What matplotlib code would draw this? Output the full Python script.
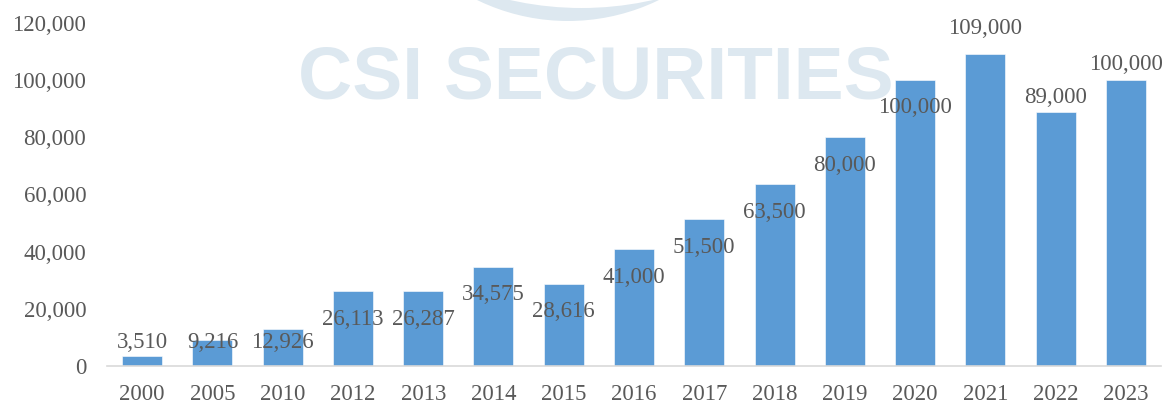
import matplotlib.pyplot as plt
from matplotlib.patches import Circle
from matplotlib.transforms import IdentityTransform

# data
years = ['2000', '2005', '2010', '2012', '2013', '2014', '2015', '2016',
         '2017', '2018', '2019', '2020', '2021', '2022', '2023']
values = [3510, 9216, 12926, 26113, 26287, 34575, 28616, 41000,
          51500, 63500, 80000, 100000, 109000, 89000, 100000]
# where each data label sits (y, data units) - labels are placed unevenly in the original
label_y = [8100, 8100, 8100, 16300, 16300, 25100, 18900, 31100,
           41600, 53800, 70000, 90300, 118200, 93800, 105500]
yticks = [0, 20000, 40000, 60000, 80000, 100000, 120000]

W, H = 1173, 403
fig = plt.figure(figsize=(W / 100, H / 100), dpi=100)
ax = fig.add_axes([107 / W, 37 / H, (1161 - 107) / W, (366 - 23) / H])

txt_color = '#595959'
serif = ['Liberation Serif', 'DejaVu Serif']

# watermark: part of the logo ring and the company name
wm = '#DDE8F0'
fig.add_artist(Circle((568, H + 186.7), 207.7, transform=IdentityTransform(),
                      facecolor=wm, edgecolor='none', zorder=0))
fig.add_artist(Circle((581.5, H + 315.5), 323.5, transform=IdentityTransform(),
                      facecolor='white', edgecolor='none', zorder=0.1))
ax.text(596 / W, (H - 79) / H, 'CSI SECURITIES', transform=fig.transFigure,
        ha='center', va='center', fontsize=54, fontweight='bold',
        family='Liberation Sans', color=wm, zorder=0)

x = list(range(len(years)))
ax.bar(x, values, width=0.57, color='#5B9BD5', edgecolor='white',
       linewidth=0.4, zorder=2)

for xi, v, ly in zip(x, values, label_y):
    ax.text(xi, ly, f'{v:,}', ha='center', va='center', fontsize=16.5,
            family=serif, color=txt_color, zorder=3)

ax.set_xlim(-0.5, len(years) - 0.5)
ax.set_ylim(0, 120000)
ax.set_xticks(x)
ax.set_xticklabels(years)
ax.set_yticks(yticks)
ax.set_yticklabels([f'{t:,}' for t in yticks])
ax.tick_params(length=0, labelsize=16.5, labelcolor=txt_color)
ax.tick_params(axis='x', pad=13)
ax.tick_params(axis='y', pad=15)
for lab in ax.get_xticklabels() + ax.get_yticklabels():
    lab.set_family(serif)

for side in ['top', 'right', 'left']:
    ax.spines[side].set_visible(False)
ax.spines['bottom'].set_color('#D9D9D9')
ax.spines['bottom'].set_linewidth(1.2)
ax.patch.set_visible(False)

fig.savefig('out.png', dpi=100)
